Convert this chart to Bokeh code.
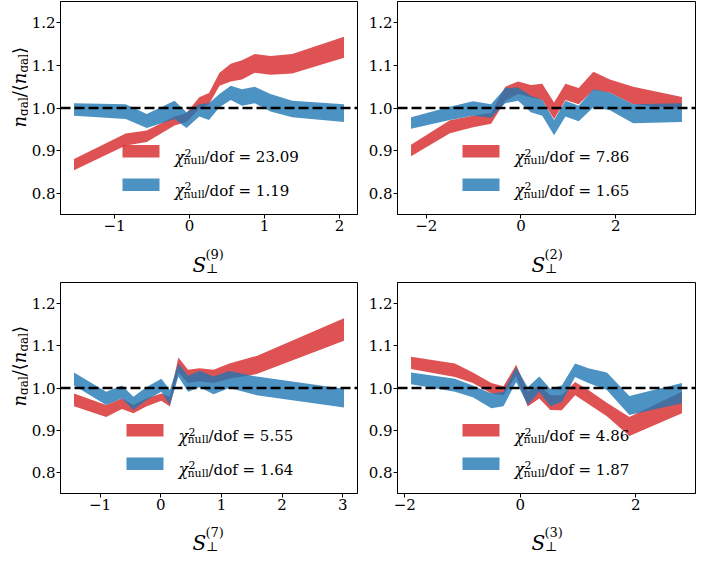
import math
from bokeh.plotting import figure
from bokeh.models import (Range1d, FixedTicker, CustomJSTickFormatter, Span,
                          Label, BoxAnnotation, Spacer)
from bokeh.layouts import column, row
from bokeh.embed import file_html
from bokeh.resources import INLINE

# ---------------- data ----------------
# panel S_perp^(9)
x_s9 = [-1.54, -0.85, -0.57, -0.20, -0.04, 0.13, 0.26, 0.40, 0.55, 0.70, 0.87, 1.08, 1.37, 2.06]
red_hi_s9 = [0.880, 0.940, 0.947, 0.980, 0.988, 1.025, 1.035, 1.083, 1.104, 1.112, 1.127, 1.122, 1.127, 1.167]
red_lo_s9 = [0.854, 0.912, 0.920, 0.959, 0.967, 0.998, 1.009, 1.052, 1.062, 1.067, 1.083, 1.078, 1.081, 1.118]
blue_hi_s9 = [1.011, 1.009, 0.986, 1.017, 0.990, 1.009, 1.011, 1.033, 1.052, 1.044, 1.050, 1.033, 1.017, 1.009]
blue_lo_s9 = [0.982, 0.974, 0.953, 0.974, 0.953, 0.980, 0.972, 1.002, 1.019, 1.005, 1.011, 0.992, 0.978, 0.967]

# panel S_perp^(2)
x_s2 = [-2.32, -1.50, -1.01, -0.63, -0.33, -0.06, 0.21, 0.45, 0.70, 0.94, 1.22, 1.53, 1.88, 2.37, 3.40]
red_hi_s2 = [0.914, 0.971, 0.982, 0.988, 1.050, 1.062, 1.054, 1.057, 1.013, 1.057, 1.047, 1.085, 1.067, 1.050, 1.026]
red_lo_s2 = [0.887, 0.941, 0.955, 0.963, 1.017, 1.033, 1.025, 1.019, 0.974, 1.019, 1.009, 1.042, 1.036, 1.009, 0.998]
blue_hi_s2 = [0.978, 1.003, 1.016, 1.009, 1.047, 1.048, 1.029, 1.019, 0.972, 1.017, 1.005, 1.044, 1.036, 1.009, 1.011]
blue_lo_s2 = [0.951, 0.972, 0.982, 0.977, 1.011, 1.017, 0.990, 0.982, 0.936, 0.980, 0.969, 1.002, 0.995, 0.964, 0.967]

# panel S_perp^(7)
x_s7 = [-1.43, -0.90, -0.64, -0.45, -0.24, 0.01, 0.15, 0.29, 0.45, 0.64, 0.87, 1.13, 1.58, 3.02]
red_hi_s7 = [0.987, 0.960, 0.975, 0.960, 0.975, 0.987, 0.979, 1.072, 1.043, 1.047, 1.043, 1.058, 1.076, 1.165]
red_lo_s7 = [0.957, 0.931, 0.950, 0.940, 0.956, 0.970, 0.956, 1.037, 1.012, 1.016, 1.012, 1.022, 1.033, 1.112]
blue_hi_s7 = [1.037, 0.991, 1.006, 0.979, 1.002, 1.022, 0.995, 1.058, 1.029, 1.041, 1.027, 1.040, 1.027, 0.998]
blue_lo_s7 = [1.006, 0.960, 0.975, 0.948, 0.971, 0.991, 0.960, 1.027, 0.991, 1.002, 0.985, 1.000, 0.983, 0.954]

# panel S_perp^(3)
x_s3 = [-1.89, -1.13, -0.82, -0.50, -0.29, -0.07, 0.13, 0.33, 0.52, 0.72, 0.95, 1.18, 1.50, 1.89, 2.80]
red_hi_s3 = [1.074, 1.058, 1.037, 1.012, 1.004, 1.055, 0.991, 1.006, 0.983, 0.983, 1.014, 0.995, 0.965, 0.931, 0.991]
red_lo_s3 = [1.045, 1.026, 1.012, 0.987, 0.983, 1.029, 0.956, 0.975, 0.948, 0.947, 0.983, 0.962, 0.933, 0.886, 0.940]
blue_hi_s3 = [1.037, 1.022, 1.006, 0.987, 0.991, 1.049, 1.002, 1.027, 0.998, 1.006, 1.058, 1.047, 1.037, 0.981, 1.012]
blue_lo_s3 = [1.009, 0.991, 0.978, 0.952, 0.957, 1.014, 0.960, 0.991, 0.957, 0.967, 1.026, 1.012, 0.995, 0.936, 0.964]

map_index = ["9", "2", "7", "3"]
chi_red = ["23.09", "7.86", "5.55", "4.86"]
chi_blue = ["1.19", "1.65", "1.64", "1.87"]
x_ticks = [[-1, 0, 1, 2], [-2, 0, 2], [-1, 0, 1, 2, 3], [-2, 0, 2]]
y_ticks = [0.8, 0.9, 1.0, 1.1, 1.2]
y_limits = (0.75, 1.25)
null_level = 1.0

# ---------------- style ----------------
RED = "#d62728"
BLUE = "#1f77b4"
SERIF = "DejaVu Serif"
YSTRIP = 28


def rich(p, parts, x, y, angle=0.0):
    """Place a sequence of text pieces (sub/superscripts) in frame screen units."""
    ca, sa = math.cos(angle), math.sin(angle)
    for text, size, along, up, style in parts:
        lx = x + along * ca - up * sa
        ly = y + along * sa + up * ca
        p.add_layout(Label(x=lx, y=ly, x_units="screen", y_units="screen",
                           text=text, angle=angle, text_font=SERIF,
                           text_font_size=f"{size}px", text_font_style=style,
                           text_color="black", text_align="left",
                           text_baseline="alphabetic"))


def strip(width, height):
    s = figure(width=width, height=height, x_range=Range1d(0, 1),
               y_range=Range1d(0, 1), output_backend="svg",
               toolbar_location=None, x_axis_location=None,
               y_axis_location=None, min_border=0, min_border_left=0,
               min_border_right=0, min_border_top=0, min_border_bottom=0)
    s.grid.visible = False
    s.outline_line_color = None
    s.background_fill_color = "white"
    s.border_fill_color = "white"
    return s


def make_panel(xs, rlo, rhi, blo, bhi, k, left_col, top_row):
    span = max(xs) - min(xs)
    xr = Range1d(min(xs) - 0.05 * span, max(xs) + 0.05 * span)
    if left_col:
        width, mbl, mbr, fw = 334, 29, 5, 300
    else:
        width, mbl, mbr, fw = 334, 35, 1, 298
    if top_row:
        height, mbt, mbb, sh = 239, 1, 25, 35
    else:
        height, mbt, mbb, sh = 244, 8, 25, 34
    p = figure(width=width, height=height, x_range=xr,
               y_range=Range1d(*y_limits), output_backend="svg",
               toolbar_location=None, min_border_left=mbl,
               min_border_right=mbr, min_border_top=mbt,
               min_border_bottom=mbb)
    p.xgrid.visible = False
    p.ygrid.visible = False
    p.outline_line_color = "black"
    p.outline_line_width = 1
    p.outline_line_alpha = 1
    p.background_fill_color = "white"
    p.border_fill_color = "white"
    for ax in (p.xaxis[0], p.yaxis[0]):
        ax.axis_line_color = "black"
        ax.axis_line_width = 1
        ax.major_tick_line_color = "black"
        ax.major_tick_line_width = 1
        ax.major_tick_out = 4
        ax.major_tick_in = 0
        ax.minor_tick_line_color = None
        ax.major_label_text_font = SERIF
        ax.major_label_text_font_size = "15px"
        ax.major_label_text_color = "black"
    p.xaxis.major_label_standoff = 1
    p.yaxis.major_label_standoff = 1
    p.xaxis.ticker = FixedTicker(ticks=x_ticks[k])
    p.yaxis.ticker = FixedTicker(ticks=y_ticks)
    p.xaxis.formatter = CustomJSTickFormatter(
        code="return tick < 0 ? '\u2212' + String(Math.abs(tick)) : String(tick);")
    p.yaxis.formatter = CustomJSTickFormatter(code="return tick.toFixed(1);")

    p.varea(x=xs, y1=rlo, y2=rhi, fill_color=RED, fill_alpha=0.8)
    p.varea(x=xs, y1=blo, y2=bhi, fill_color=BLUE, fill_alpha=0.8)
    p.add_layout(Span(location=null_level, dimension="width", line_color="black",
                      line_width=2.5, line_dash="10 4"))

    # legend (lower centre)
    cx = fw / 2.0
    dx = -88 if len(chi_red[k]) > 4 else -84
    pl = cx + dx
    for color, bot, val in ((RED, 57, chi_red[k]), (BLUE, 23.5, chi_blue[k])):
        p.add_layout(BoxAnnotation(left=pl, right=pl + 37, bottom=bot, top=bot + 12.5,
                                   left_units="screen", right_units="screen",
                                   bottom_units="screen", top_units="screen",
                                   fill_color=color, fill_alpha=0.8,
                                   line_color=None))
        rich(p, [("\u03c7", 16, 0, 0, "italic"),
                 ("2", 11, 10, 4.5, "normal"),
                 ("null", 11, 9, -3.5, "normal"),
                 ("/dof = " + val, 15, 30, 0, "normal")],
             pl + 52, bot + 0.5)

    # x label strip  S_perp^(k)
    xs_strip = strip(width, sh)
    rich(xs_strip, [("S", 20, 0, 0, "italic"),
                    ("(" + map_index[k] + ")", 13, 13, 10.5, "normal"),
                    ("\u22a5", 13, 13.5, -4, "normal")],
         mbl + cx - 15, 10)

    # y label strip  n_gal / <n_gal>
    ys_strip = None
    if left_col:
        ys_strip = strip(YSTRIP, height)
        rich(ys_strip, [("n", 18, 0, 0, "italic"),
                        ("gal", 12, 11.6, -4, "normal"),
                        ("/", 18, 30.3, 0, "normal"),
                        ("\u27e8", 18, 36.3, 0, "normal"),
                        ("n", 18, 43.3, 0, "italic"),
                        ("gal", 12, 54.9, -4, "normal"),
                        ("\u27e9", 18, 73.6, 0, "normal")],
             19, mbb + 62, angle=math.pi / 2)
    return p, xs_strip, ys_strip, sh


p1, xl1, yl1, h1 = make_panel(x_s9, red_lo_s9, red_hi_s9, blue_lo_s9, blue_hi_s9, 0, True, True)
p2, xl2, _, _ = make_panel(x_s2, red_lo_s2, red_hi_s2, blue_lo_s2, blue_hi_s2, 1, False, True)
p3, xl3, yl3, h3 = make_panel(x_s7, red_lo_s7, red_hi_s7, blue_lo_s7, blue_hi_s7, 2, True, False)
p4, xl4, _, _ = make_panel(x_s3, red_lo_s3, red_hi_s3, blue_lo_s3, blue_hi_s3, 3, False, False)

layout = column(
    row(yl1, p1, p2),
    row(Spacer(width=YSTRIP, height=h1), xl1, xl2),
    row(yl3, p3, p4),
    row(Spacer(width=YSTRIP, height=h3), xl3, xl4),
)
open("out.html", "w").write(file_html(layout, INLINE))
